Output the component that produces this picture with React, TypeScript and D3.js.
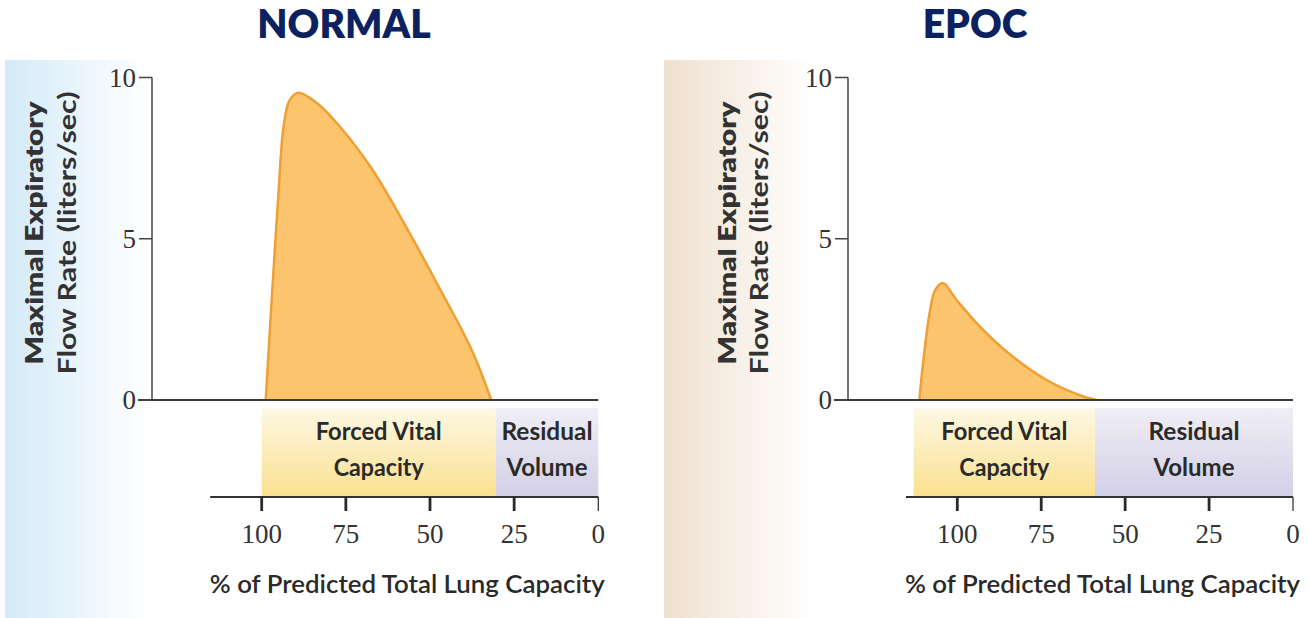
import React from "react";
import * as d3 from "d3";

const W = 1308;
const H = 618;

const titles = ["NORMAL", "EPOC"];
const yTicks = [0, 5, 10];
const xTicks = [100, 75, 50, 25, 0];
const yTitleLines = ["Maximal Expiratory", "Flow Rate (liters/sec)"];
const xTitle = "% of Predicted Total Lung Capacity";
const bandLabels = [
  ["Forced Vital", "Capacity"],
  ["Residual", "Volume"],
];

// flow-volume curves (% of TLC, liters/sec)
const normalPct = [98.8, 97.8, 96.9, 95.0, 93.5, 91.7, 89.1, 83.6, 76.8, 67.1, 57.1, 47.4, 37.6, 31.8];
const normalFlow = [0, 1.77, 3.32, 6.43, 8.48, 9.3, 9.53, 9.21, 8.48, 7.14, 5.37, 3.51, 1.55, 0];
const epocPct = [111.3, 110.1, 108.1, 106.6, 104.3, 100.2, 93.2, 83.4, 73.4, 63.5, 58.5];
const epocFlow = [0, 1.24, 2.79, 3.41, 3.63, 3.1, 2.27, 1.34, 0.62, 0.15, 0];

// band boundaries (FVC | RV) in % of TLC
const normalBands = [100, 30.5, 0];
const epocBands = [113, 59, 0];

const axisStartPct = 115.3;

const panels = [
  {
    title: titles[0],
    titleX: 344,
    bgX: 5,
    bgW: 620,
    bgColor: "#d3eaf8",
    yAxisX: 152,
    x100: 261.7,
    x0: 598.3,
    yTitleX: [34, 67],
    pct: normalPct,
    flow: normalFlow,
    bands: normalBands,
  },
  {
    title: titles[1],
    titleX: 975,
    bgX: 664,
    bgW: 644,
    bgColor: "#efe0cf",
    yAxisX: 848,
    x100: 957.3,
    x0: 1293,
    yTitleX: [727, 759],
    pct: epocPct,
    flow: epocFlow,
    bands: epocBands,
  },
];

const sans = "Lato, 'Open Sans', sans-serif";
const serif = "'Liberation Serif', 'DejaVu Serif', serif";
const ink = "#2a2a2a";

function Panel({ p, idx }: { p: (typeof panels)[number]; idx: number }) {
  const x = d3.scaleLinear().domain([100, 0]).range([p.x100, p.x0]);
  const y = d3.scaleLinear().domain([0, 10]).range([400, 77.5]);
  const pts = p.pct.map((v, i) => [v, p.flow[i]] as [number, number]);

  const area = d3
    .area<[number, number]>()
    .x((d) => x(d[0]))
    .y0(y(0))
    .y1((d) => y(d[1]))
    .curve(d3.curveCatmullRom.alpha(0.5));
  const line = d3
    .line<[number, number]>()
    .x((d) => x(d[0]))
    .y((d) => y(d[1]))
    .curve(d3.curveCatmullRom.alpha(0.5));

  const bandTop = 408;
  const axisY = 497;
  const gFvc = `fvc${idx}`;
  const gRv = `rv${idx}`;
  const gBg = `bg${idx}`;

  return (
    <g>
      <defs>
        <linearGradient id={gBg} x1="0" x2="1" y1="0" y2="0">
          <stop offset="0" stopColor={p.bgColor} />
          <stop offset="0.23" stopColor="#ffffff" />
        </linearGradient>
        <linearGradient id={gFvc} x1="0" x2="0" y1="0" y2="1">
          <stop offset="0" stopColor="#fdf8e4" />
          <stop offset="1" stopColor="#fbe08f" />
        </linearGradient>
        <linearGradient id={gRv} x1="0" x2="0" y1="0" y2="1">
          <stop offset="0" stopColor="#efeef6" />
          <stop offset="1" stopColor="#d3cfe6" />
        </linearGradient>
      </defs>
      <rect x={p.bgX} y={60} width={p.bgW} height={H - 60} fill={`url(#${gBg})`} />

      <text
        x={p.titleX}
        y={38}
        textAnchor="middle"
        fontFamily={sans}
        fontWeight={800}
        fontSize={39}
        fill="#0b2160"
      >
        {p.title}
      </text>

      {/* y title */}
      {yTitleLines.map((t, i) => (
        <text
          key={t}
          transform={`translate(${p.yTitleX[i]},233) rotate(-90)`}
          textAnchor="middle"
          dy="0.35em"
          fontFamily={sans}
          fontWeight={i === 0 ? 800 : 700}
          fontSize={25}
          fill="#333"
          textLength={i === 0 ? 263 : 283}
          lengthAdjust="spacingAndGlyphs"
        >
          {t}
        </text>
      ))}

      {/* bands */}
      {bandLabels.map((lab, i) => {
        const a = x(p.bands[i]);
        const b = x(p.bands[i + 1]);
        const cx = (a + b) / 2;
        return (
          <g key={i}>
            <rect x={a} y={bandTop} width={b - a} height={axisY - bandTop} fill={`url(#${i === 0 ? gFvc : gRv})`} />
            {lab.map((t, j) => (
              <text
                key={t}
                x={cx}
                y={432 + j * 36}
                dy="0.35em"
                textAnchor="middle"
                fontFamily={sans}
                fontWeight={700}
                fontSize={24}
                fill={ink}
                textLength={[[126, 90], [91, 81]][i][j]}
                lengthAdjust="spacingAndGlyphs"
              >
                {t}
              </text>
            ))}
          </g>
        );
      })}

      {/* curve */}
      <path d={area(pts) ?? ""} fill="#fcc46d" />
      <path d={line(pts) ?? ""} fill="none" stroke="#ef9f34" strokeWidth={2.5} strokeLinejoin="round" />

      {/* y axis */}
      <line x1={p.yAxisX} x2={p.yAxisX} y1={y(10)} y2={y(0)} stroke="#444" strokeWidth={1.5} />
      <line x1={p.yAxisX - 14} x2={x(0)} y1={y(0)} y2={y(0)} stroke="#3a3a3a" strokeWidth={2} />
      {yTicks.map((t) => (
        <g key={t}>
          <line x1={p.yAxisX - 13} x2={p.yAxisX} y1={y(t)} y2={y(t)} stroke="#444" strokeWidth={1.5} />
          <text
            x={p.yAxisX - 16}
            y={y(t)}
            dy="0.35em"
            textAnchor="end"
            fontFamily={serif}
            fontSize={27}
            fill="#333"
          >
            {t}
          </text>
        </g>
      ))}

      {/* x axis */}
      <line x1={x(axisStartPct)} x2={x(0)} y1={axisY} y2={axisY} stroke="#333" strokeWidth={2.2} />
      {xTicks.map((t) => (
        <g key={t}>
          <line x1={x(t)} x2={x(t)} y1={axisY} y2={axisY + 14} stroke="#2a2a2a" strokeWidth={t === 0 ? 1.2 : 2.8} />
          <text x={x(t)} y={543} textAnchor="middle" fontFamily={serif} fontSize={27} fill="#333">
            {t}
          </text>
        </g>
      ))}
      <text
        x={(x(axisStartPct) + x(0)) / 2 + 3}
        y={593}
        textAnchor="middle"
        fontFamily={sans}
        fontWeight={600}
        fontSize={25}
        fill={ink}
        textLength={395}
        lengthAdjust="spacingAndGlyphs"
      >
        {xTitle}
      </text>
    </g>
  );
}

export default function App() {
  return (
    <svg
      width={W}
      height={H}
      viewBox={`0 0 ${W} ${H}`}
      style={{ position: "absolute", left: 0, top: 0, background: "#fff" }}
    >
      <rect width={W} height={H} fill="#fff" />
      {panels.map((p, i) => (
        <Panel key={i} p={p} idx={i} />
      ))}
    </svg>
  );
}
